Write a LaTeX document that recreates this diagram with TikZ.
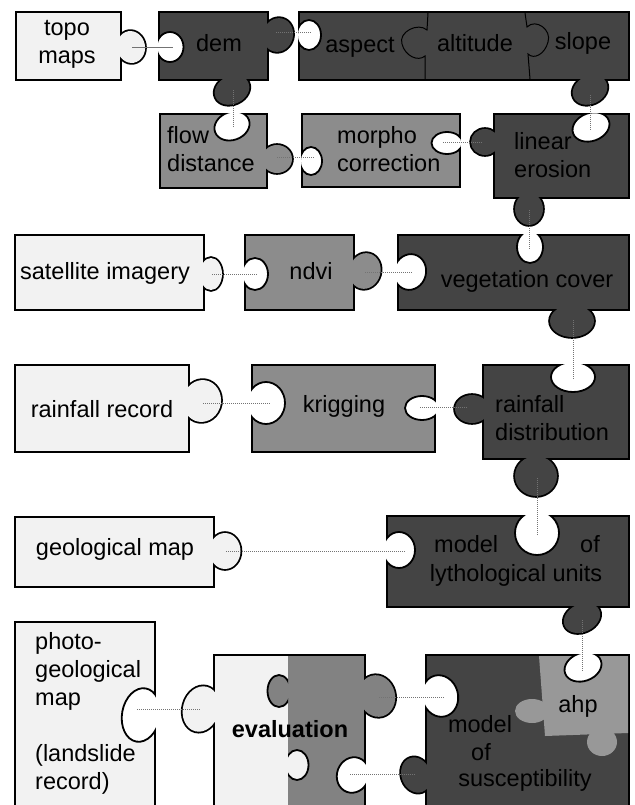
\documentclass[tikz,border=0pt]{standalone}
\usepackage{fontspec}
\setmainfont{Liberation Sans}
\definecolor{paleGray}{RGB}{242,242,242}
\definecolor{midGray}{RGB}{140,140,140}
\definecolor{darkGray}{RGB}{68,68,68}
\definecolor{ahpGray}{RGB}{152,152,152}
\definecolor{evalGray}{RGB}{130,130,130}
\tikzset{
  rim/.style={draw=black, line width=3.6pt},
  hole/.style={fill=white, draw=black, line width=1.8pt},
  link/.style={draw=black!55, densely dotted, line width=1pt},
  lbl/.style={font=\fontsize{23.5}{28}\selectfont, inner sep=0pt, text depth=0pt},
}

\begin{document}
\begin{tikzpicture}[x=1pt, y=-1pt]
\useasboundingbox (0,0) rectangle (634,805);
\clip (0,0) rectangle (634,805);

% outlines of the pieces (thick, the fills cover their inner half)
\draw[rim] (17,13) rectangle (120,79) (131,47) circle [x radius=14, y radius=16, rotate=10];
\draw[rim] (160,13) rectangle (267,79) (278,35) circle [x radius=15, y radius=17, rotate=-15]
  (232,90) circle [x radius=18, y radius=14, rotate=25];
\draw[rim] (300,13) rectangle (628,79) (590,90) circle [x radius=18, y radius=14, rotate=25];
\draw[rim] (161,115) rectangle (266,187) (277,159) circle [x radius=15, y radius=14];
\draw[rim] (303,115) rectangle (459,186);
\draw[rim] (495,115) rectangle (628,197) (485,142) circle [x radius=14, y radius=13]
  (529,209) circle [x radius=14, y radius=16];
\draw[rim] (16,236) rectangle (203,309) (211,274) circle [x radius=11, y radius=16];
\draw[rim] (246,236) rectangle (353,309) (365,271) circle [x radius=15.5, y radius=18, rotate=-15];
\draw[rim] (399,236) rectangle (628,309) (572,321) circle [x radius=22, y radius=16];
\draw[rim] (16,366) rectangle (188,451) (202,401) circle [x radius=19, y radius=21, rotate=-10];
\draw[rim] (253,366) rectangle (434,451);
\draw[rim] (484,366) rectangle (628,458) (472,409) circle [x radius=17, y radius=14]
  (536,476) circle [x radius=21, y radius=20];
\draw[rim] (16,518) rectangle (213,586) (225,551) circle [x radius=15.5, y radius=18];
\draw[rim] (388,517) rectangle (628,606) (582,618) circle [x radius=19, y radius=14, rotate=25];
\draw[rim] (16,623) rectangle (154,820);
\draw[rim] (215,656) rectangle (364,820) (201,709) circle [x radius=18, y radius=23, rotate=-15]
  (377,696) circle [x radius=18, y radius=21, rotate=15];
\draw[rim] (427,656) rectangle (628,820) (416,775) circle [x radius=14.5, y radius=18, rotate=20];

% fills
\fill[paleGray] (17,13) rectangle (120,79);
\fill[paleGray] (131,47) circle [x radius=14, y radius=16, rotate=10];
\fill[darkGray] (160,13) rectangle (267,79);
\fill[darkGray] (278,35) circle [x radius=15, y radius=17, rotate=-15];
\fill[darkGray] (232,90) circle [x radius=18, y radius=14, rotate=25];
\fill[darkGray] (300,13) rectangle (628,79);
\fill[darkGray] (590,90) circle [x radius=18, y radius=14, rotate=25];
\fill[midGray] (161,115) rectangle (266,187);
\fill[midGray] (277,159) circle [x radius=15, y radius=14];
\fill[midGray] (303,115) rectangle (459,186);
\fill[darkGray] (495,115) rectangle (628,197);
\fill[darkGray] (485,142) circle [x radius=14, y radius=13];
\fill[darkGray] (529,209) circle [x radius=14, y radius=16];
\fill[paleGray] (16,236) rectangle (203,309);
\fill[paleGray] (211,274) circle [x radius=11, y radius=16];
\fill[midGray] (246,236) rectangle (353,309);
\fill[midGray] (365,271) circle [x radius=15.5, y radius=18, rotate=-15];
\fill[darkGray] (399,236) rectangle (628,309);
\fill[darkGray] (572,321) circle [x radius=22, y radius=16];
\fill[paleGray] (16,366) rectangle (188,451);
\fill[paleGray] (202,401) circle [x radius=19, y radius=21, rotate=-10];
\fill[midGray] (253,366) rectangle (434,451);
\fill[darkGray] (484,366) rectangle (628,458);
\fill[darkGray] (472,409) circle [x radius=17, y radius=14];
\fill[darkGray] (536,476) circle [x radius=21, y radius=20];
\fill[paleGray] (16,518) rectangle (213,586);
\fill[paleGray] (225,551) circle [x radius=15.5, y radius=18];
\fill[darkGray] (388,517) rectangle (628,606);
\fill[darkGray] (582,618) circle [x radius=19, y radius=14, rotate=25];
\fill[paleGray] (16,623) rectangle (154,820);
\fill[paleGray] (215,656) rectangle (288,820);
\fill[evalGray] (288,656) rectangle (364,820);
\fill[paleGray] (201,709) circle [x radius=18, y radius=23, rotate=-15];
\fill[evalGray] (377,696) circle [x radius=18, y radius=21, rotate=15];
\fill[darkGray] (427,656) rectangle (628,820);
\fill[darkGray] (416,775) circle [x radius=14.5, y radius=18, rotate=20];

% joints inside aspect / altitude / slope
\draw[line width=1pt] (428,13) -- (427,30) .. controls (418,22) and (398,32) .. (402,44)
  .. controls (405,56) and (418,62) .. (425,56) -- (425,79);
\draw[line width=1pt] (525,13) -- (527,27) .. controls (536,18) and (552,30) .. (548,42)
  .. controls (545,54) and (534,60) .. (528,54) -- (530,79);

% the two halves of evaluation
\begin{scope}
  \clip (215,656) rectangle (288,820);
  \filldraw[fill=evalGray, draw=black, line width=1.8pt] (279,691) circle [x radius=11.5, y radius=16];
\end{scope}
\begin{scope}
  \clip (288,656) rectangle (364,820);
  \filldraw[fill=paleGray, draw=black, line width=1.8pt] (297,765) circle [x radius=11.5, y radius=15];
\end{scope}

% ahp piece inside susceptibility
\fill[ahpGray] (539,656) -- (628,656) -- (628,733) -- (545,736) -- cycle;
\fill[ahpGray] (532,711) circle [x radius=17, y radius=12];
\fill[ahpGray] (602,742) circle [x radius=15, y radius=14];

% sockets
\begin{scope}
  \clip (158.2,11.2) rectangle (268.8,80.8);
  \filldraw[hole] (170,47) circle [x radius=13.5, y radius=15];
\end{scope}
\begin{scope}
  \clip (298.2,11.2) rectangle (629.8,80.8);
  \filldraw[hole] (309,35) circle [x radius=12, y radius=15];
\end{scope}
\begin{scope}
  \clip (159.2,113.2) rectangle (267.8,188.8);
  \filldraw[hole] (232,126) circle [x radius=18, y radius=14, rotate=20];
\end{scope}
\begin{scope}
  \clip (301.2,113.2) rectangle (460.8,187.8);
  \filldraw[hole] (311,161) circle [x radius=11, y radius=14];
  \filldraw[hole] (447,143) circle [x radius=15.5, y radius=11];
\end{scope}
\begin{scope}
  \clip (493.2,113.2) rectangle (629.8,198.8);
  \filldraw[hole] (591,127) circle [x radius=19, y radius=14, rotate=20];
\end{scope}
\begin{scope}
  \clip (244.2,234.2) rectangle (354.8,310.8);
  \filldraw[hole] (255,274) circle [x radius=13, y radius=16];
\end{scope}
\begin{scope}
  \clip (397.2,234.2) rectangle (629.8,310.8);
  \filldraw[hole] (410,272) circle [x radius=16, y radius=18, rotate=-15];
  \filldraw[hole] (530,247) circle [x radius=13, y radius=16];
\end{scope}
\begin{scope}
  \clip (251.2,364.2) rectangle (435.8,452.8);
  \filldraw[hole] (266,403) circle [x radius=19, y radius=21];
  \filldraw[hole] (422,408) circle [x radius=17, y radius=12];
\end{scope}
\begin{scope}
  \clip (482.2,364.2) rectangle (629.8,459.8);
  \filldraw[hole] (573,377) circle [x radius=22, y radius=15];
\end{scope}
\begin{scope}
  \clip (386.2,515.2) rectangle (629.8,607.8);
  \filldraw[hole] (399,550) circle [x radius=16, y radius=18];
  \filldraw[hole] (537,533) circle [x radius=22, y radius=22];
\end{scope}
\begin{scope}
  \clip (14.2,621.2) rectangle (155.8,820);
  \filldraw[hole] (141,715) circle [x radius=19, y radius=27, rotate=-10];
\end{scope}
\begin{scope}
  \clip (213.2,654.2) rectangle (365.8,820);
  \filldraw[hole] (353,775) circle [x radius=16, y radius=18, rotate=-20];
\end{scope}
\begin{scope}
  \clip (425.2,654.2) rectangle (629.8,820);
  \filldraw[hole] (440,696) circle [x radius=18, y radius=21, rotate=15];
  \filldraw[hole] (583,667) circle [x radius=19, y radius=14, rotate=20];
\end{scope}

% labels
\node[lbl, anchor=south, align=center] (topo) at (67,64) {topo\\maps};
\node[lbl, anchor=south] (dem) at (219,52) {dem};
\node[lbl, anchor=south] (aspect) at (360,53) {aspect};
\node[lbl, anchor=south] (altitude) at (475,52) {altitude};
\node[lbl, anchor=south] (slope) at (583,50) {slope};
\node[lbl, anchor=south west, align=left] (flow) at (167,172) {flow\\distance};
\node[lbl, anchor=south west, align=left] (morpho) at (337,172) {morpho\\correction};
\node[lbl, anchor=south west, align=left] (linear) at (514,178) {linear\\erosion};
\node[lbl, anchor=south] (sat) at (105,280) {satellite imagery};
\node[lbl, anchor=south] (ndvi) at (311,280) {ndvi};
\node[lbl, anchor=south] (veg) at (527,288) {vegetation cover};
\node[lbl, anchor=south] (record) at (102,418) {rainfall record};
\node[lbl, anchor=south] (krig) at (344,413) {krigging};
\node[lbl, anchor=south west, align=left] (rain) at (495,441) {rainfall\\distribution};
\node[lbl, anchor=south] (geo) at (115,556) {geological map};
\node[lbl, anchor=south west] (lyth-a) at (434,553) {model};
\node[lbl, anchor=south east] (lyth-b) at (600,553) {of};
\node[lbl, anchor=south] (lyth-c) at (516,582) {lythological units};
\node[lbl, anchor=south west, align=left] (photo) at (35,790)
  {photo-\\geological\\map\\[28pt](landslide\\record)};
\node[lbl, anchor=south, font=\fontsize{23.5}{28}\selectfont\bfseries] (eval) at (290,738) {evaluation};
\node[lbl, anchor=south] (ahp) at (578,713) {ahp};
\node[lbl, anchor=south] (susc-a) at (480,733) {model};
\node[lbl, anchor=south] (susc-b) at (481,761) {of};
\node[lbl, anchor=south] (susc-c) at (525,787) {susceptibility};

% joint points
\coordinate (topo-r) at (132,47);   \coordinate (dem-l) at (173,47);
\coordinate (dem-r) at (276,33);    \coordinate (aspect-l) at (311,33);
\coordinate (dem-b) at (233,90);    \coordinate (flow-t) at (233,128);
\coordinate (slope-b) at (590,95);  \coordinate (linear-t) at (590,130);
\coordinate (flow-r) at (277,158);  \coordinate (morpho-l) at (315,158);
\coordinate (morpho-r) at (443,143); \coordinate (linear-l) at (482,143);
\coordinate (linear-b) at (529,210); \coordinate (veg-t) at (529,250);
\coordinate (sat-r) at (212,274);   \coordinate (ndvi-l) at (258,274);
\coordinate (ndvi-r) at (365,272);  \coordinate (veg-l) at (413,272);
\coordinate (veg-b) at (573,320);   \coordinate (rain-t) at (573,380);
\coordinate (record-r) at (203,403); \coordinate (krig-l) at (270,403);
\coordinate (krig-r) at (420,407);  \coordinate (rain-l) at (468,407);
\coordinate (rain-b) at (537,478);  \coordinate (lyth-t) at (537,535);
\coordinate (geo-r) at (226,551);   \coordinate (lyth-l) at (405,551);
\coordinate (lyth-bt) at (582,620); \coordinate (ahp-t) at (582,672);
\coordinate (photo-r) at (137,709); \coordinate (eval-l) at (200,709);
\coordinate (eval-r) at (379,697);  \coordinate (susc-l) at (445,697);
\coordinate (eval-h) at (350,774);  \coordinate (susc-t) at (415,774);

% dotted joints
\draw[link, solid, line width=0.8pt] (topo-r) -- (dem-l);
\draw[link] (dem-r) -- (aspect-l);
\draw[link] (dem-b) -- (flow-t);
\draw[link] (slope-b) -- (linear-t);
\draw[link] (flow-r) -- (morpho-l);
\draw[link] (morpho-r) -- (linear-l);
\draw[link] (linear-b) -- (veg-t);
\draw[link] (sat-r) -- (ndvi-l);
\draw[link] (ndvi-r) -- (veg-l);
\draw[link] (veg-b) -- (rain-t);
\draw[link] (record-r) -- (krig-l);
\draw[link] (krig-r) -- (rain-l);
\draw[link] (rain-b) -- (lyth-t);
\draw[link] (geo-r) -- (lyth-l);
\draw[link] (lyth-bt) -- (ahp-t);
\draw[link] (photo-r) -- (eval-l);
\draw[link] (eval-r) -- (susc-l);
\draw[link] (eval-h) -- (susc-t);
\end{tikzpicture}
\end{document}
